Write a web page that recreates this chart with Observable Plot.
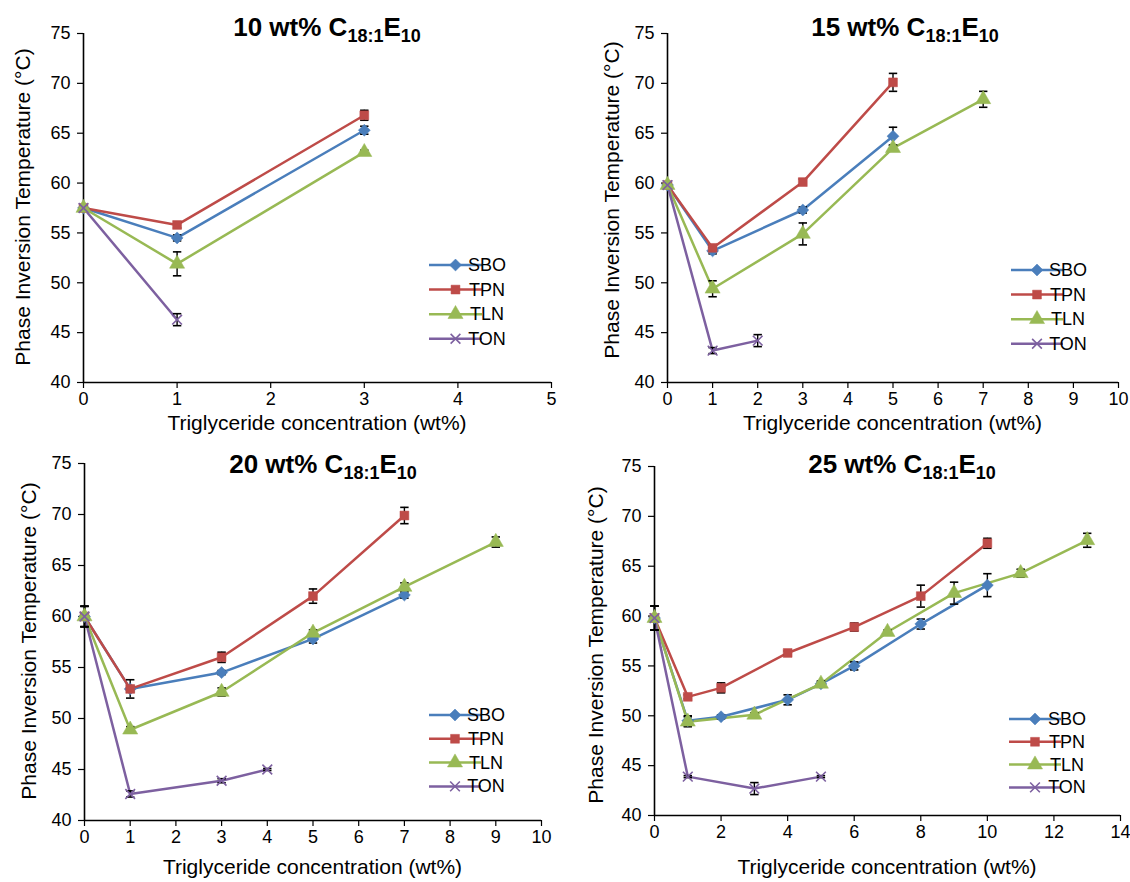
<!DOCTYPE html>
<html><head><meta charset="utf-8">
<script src="https://cdn.jsdelivr.net/npm/d3@7"></script>
<script src="https://cdn.jsdelivr.net/npm/@observablehq/plot@0.6"></script>
<style>
body{margin:0;background:#fff;}
#chart{position:relative;width:1130px;height:882px;background:#fff;font-family:Arial,"Liberation Sans",sans-serif;}
#chart svg{position:absolute;}
</style></head><body><div id="chart"></div>
<script>
// ---------- data ----------
const seriesNames = ["SBO", "TPN", "TLN", "TON"];
const surfactantLevels = ["10", "15", "20", "25"];
const xLabel = "Triglyceride concentration (wt%)";
const yLabel = "Phase Inversion Temperature (°C)";
const xMaxes = [5, 10, 10, 14];
const xTickSteps = [1, 1, 1, 2];
const yTicks = [40, 45, 50, 55, 60, 65, 70, 75];

// 10 wt% C18:1E10
const c10_SBO_x = [0, 1, 3];          const c10_SBO_y = [57.5, 54.5, 65.3];   const c10_SBO_e = [0.3, 0.3, 0.4];
const c10_TPN_x = [0, 1, 3];          const c10_TPN_y = [57.5, 55.8, 66.8];   const c10_TPN_e = [0.3, 0.3, 0.5];
const c10_TLN_x = [0, 1, 3];          const c10_TLN_y = [57.5, 51.9, 63.1];   const c10_TLN_e = [0.3, 1.2, 0.2];
const c10_TON_x = [0, 1];             const c10_TON_y = [57.5, 46.3];         const c10_TON_e = [0.3, 0.6];

// 15 wt% C18:1E10
const c15_SBO_x = [0, 1, 3, 5];       const c15_SBO_y = [59.8, 53.2, 57.3, 64.7];       const c15_SBO_e = [0.3, 0.3, 0.3, 0.9];
const c15_TPN_x = [0, 1, 3, 5];       const c15_TPN_y = [59.8, 53.5, 60.1, 70.1];       const c15_TPN_e = [0.3, 0.3, 0.3, 0.9];
const c15_TLN_x = [0, 1, 3, 5, 7];    const c15_TLN_y = [59.8, 49.4, 54.9, 63.5, 68.4]; const c15_TLN_e = [0.3, 0.8, 1.1, 0.3, 0.8];
const c15_TON_x = [0, 1, 2];          const c15_TON_y = [59.8, 43.2, 44.2];             const c15_TON_e = [0.3, 0.3, 0.6];

// 20 wt% C18:1E10
const c20_SBO_x = [0, 1, 3, 5, 7];    const c20_SBO_y = [60.0, 52.9, 54.5, 57.8, 62.1];       const c20_SBO_e = [1.0, 0.3, 0.2, 0.4, 0.3];
const c20_TPN_x = [0, 1, 3, 5, 7];    const c20_TPN_y = [60.0, 52.9, 56.0, 62.0, 69.9];       const c20_TPN_e = [1.0, 0.9, 0.5, 0.7, 0.8];
const c20_TLN_x = [0, 1, 3, 5, 7, 9]; const c20_TLN_y = [60.0, 48.9, 52.6, 58.4, 62.9, 67.3]; const c20_TLN_e = [1.0, 0.3, 0.4, 0.3, 0.4, 0.5];
const c20_TON_x = [0, 1, 3, 4];       const c20_TON_y = [60.0, 42.6, 43.9, 45.0];             const c20_TON_e = [1.0, 0.3, 0.2, 0.1];

// 25 wt% C18:1E10
const c25_SBO_x = [0, 1, 2, 4, 5, 6, 8, 10];   const c25_SBO_y = [59.8, 49.5, 49.9, 51.6, 53.2, 55.0, 59.2, 63.1];  const c25_SBO_e = [1.2, 0.5, 0.2, 0.5, 0.3, 0.4, 0.5, 1.15];
const c25_TPN_x = [0, 1, 2, 4, 6, 8, 10];      const c25_TPN_y = [59.8, 51.9, 52.8, 56.3, 58.9, 62.0, 67.3];        const c25_TPN_e = [1.2, 0.2, 0.5, 0.2, 0.4, 1.1, 0.5];
const c25_TLN_x = [0, 1, 3, 5, 7, 9, 11, 13];  const c25_TLN_y = [59.8, 49.4, 50.1, 53.2, 58.4, 62.3, 64.3, 67.6];  const c25_TLN_e = [1.2, 0.5, 0.2, 0.2, 0.2, 1.1, 0.4, 0.7];
const c25_TON_x = [0, 1, 3, 5];                const c25_TON_y = [59.8, 43.9, 42.7, 43.9];                          const c25_TON_e = [1.2, 0.1, 0.6, 0.1];

const panelSeries = [
  [[c10_SBO_x, c10_SBO_y, c10_SBO_e], [c10_TPN_x, c10_TPN_y, c10_TPN_e], [c10_TLN_x, c10_TLN_y, c10_TLN_e], [c10_TON_x, c10_TON_y, c10_TON_e]],
  [[c15_SBO_x, c15_SBO_y, c15_SBO_e], [c15_TPN_x, c15_TPN_y, c15_TPN_e], [c15_TLN_x, c15_TLN_y, c15_TLN_e], [c15_TON_x, c15_TON_y, c15_TON_e]],
  [[c20_SBO_x, c20_SBO_y, c20_SBO_e], [c20_TPN_x, c20_TPN_y, c20_TPN_e], [c20_TLN_x, c20_TLN_y, c20_TLN_e], [c20_TON_x, c20_TON_y, c20_TON_e]],
  [[c25_SBO_x, c25_SBO_y, c25_SBO_e], [c25_TPN_x, c25_TPN_y, c25_TPN_e], [c25_TLN_x, c25_TLN_y, c25_TLN_e], [c25_TON_x, c25_TON_y, c25_TON_e]]
];

// ---------- styles & layout ----------
const seriesColors = ["#4A7EBB", "#BE4B48", "#98B954", "#7D60A0"];
const seriesSymbols = ["diamond2", "square", "triangle", "times"];
const seriesD3Symbols = [d3.symbolDiamond2, d3.symbolSquare, d3.symbolTriangle, d3.symbolTimes];
const seriesR = [5.4, 5, 5.6, 4.5];
const FONT = "Arial, 'Liberation Sans', sans-serif";
const TICK_FS = 18, AXIS_FS = 21, LEG_FS = 18, TITLE_FS = 26, SUB_FS = 18;

const layouts = [
  {left: 0,   top: 0,   mL: 83,  mR: 14, mT: 33, mB: 59, yLab: [22, 207], title: [327, 36], xLab: 430, leg: {x1: 429, x2: 482, tx: 487, y0: 265, dy: 24.6}},
  {left: 565, top: 0,   mL: 102, mR: 12, mT: 33, mB: 59, yLab: [46, 200], title: [340, 36], xLab: 430, leg: {x1: 446, x2: 498, tx: 503, y0: 270, dy: 24.6}},
  {left: 0,   top: 441, mL: 84,  mR: 24, mT: 22, mB: 62, yLab: [28, 200], title: [323, 32], xLab: 433, leg: {x1: 429, x2: 481, tx: 486, y0: 274, dy: 23.8}},
  {left: 565, top: 441, mL: 89,  mR: 10, mT: 25, mB: 67, yLab: [30, 204], title: [337, 32], xLab: 433, leg: {x1: 444, x2: 496, tx: 502, y0: 278, dy: 22.8}}
];

const capSymbol = {
  draw(context, size) {
    const r = Math.sqrt(size / Math.PI);
    context.moveTo(-r, 0);
    context.lineTo(r, 0);
  }
};

const chart = document.getElementById("chart");

surfactantLevels.forEach((lvl, p) => {
  const L = layouts[p];
  const W = 565, H = 441;
  const xTicks = d3.range(0, xMaxes[p] + 1e-9, xTickSteps[p]);
  const marks = [
    Plot.axisX({ticks: xTicks, tickFormat: d3.format("d"), tickSize: 6, tickPadding: 4, fontSize: TICK_FS, label: null, stroke: "black", strokeWidth: 1.2}),
    Plot.axisY({ticks: yTicks, tickFormat: d3.format("d"), tickSize: 6, tickPadding: 7, fontSize: TICK_FS, label: null, stroke: "black", strokeWidth: 1.2}),
    Plot.ruleX([0], {stroke: "black", strokeWidth: 1.6}),
    Plot.ruleY([40], {stroke: "black", strokeWidth: 1.6})
  ];
  const all = [];
  panelSeries[p].forEach(([xs, ys, es], s) => {
    const rows = xs.map((x, i) => ({x, y: ys[i], e: es[i], s}));
    all.push(rows);
    marks.push(Plot.line(rows, {x: "x", y: "y", stroke: seriesColors[s], strokeWidth: 2.5}));
  });
  all.forEach((rows) => {
    marks.push(Plot.ruleX(rows, {x: "x", y1: d => d.y - d.e, y2: d => d.y + d.e, stroke: "black", strokeWidth: 1.4}));
    marks.push(Plot.dot(rows, {x: "x", y: d => d.y + d.e, symbol: capSymbol, r: 4.2, fill: "none", stroke: "black", strokeWidth: 1.6}));
    marks.push(Plot.dot(rows, {x: "x", y: d => d.y - d.e, symbol: capSymbol, r: 4.2, fill: "none", stroke: "black", strokeWidth: 1.6}));
  });
  all.forEach((rows, s) => {
    const isStroke = seriesSymbols[s] === "times";
    marks.push(Plot.dot(rows, {x: "x", y: "y", symbol: seriesSymbols[s], r: seriesR[s],
      fill: isStroke ? "none" : seriesColors[s], stroke: seriesColors[s], strokeWidth: isStroke ? 1.6 : 0.5}));
  });

  const svg = Plot.plot({
    width: W, height: H,
    marginLeft: L.mL, marginRight: L.mR, marginTop: L.mT, marginBottom: L.mB,
    style: {fontFamily: FONT, fontSize: TICK_FS + "px", color: "black", background: "transparent", overflow: "visible"},
    x: {domain: [0, xMaxes[p]]},
    y: {domain: [40, 75]},
    marks
  });
  svg.style.left = L.left + "px";
  svg.style.top = L.top + "px";
  svg.style.maxWidth = "none";

  const g = d3.select(svg).append("g").attr("font-family", FONT).attr("fill", "black");
  // title
  const t = g.append("text").attr("x", L.title[0]).attr("y", L.title[1]).attr("text-anchor", "middle")
    .attr("font-weight", "bold").attr("font-size", TITLE_FS);
  t.append("tspan").text(lvl + " wt% C");
  t.append("tspan").attr("font-size", SUB_FS).attr("dy", 6).text("18:1");
  t.append("tspan").attr("dy", -6).text("E");
  t.append("tspan").attr("font-size", SUB_FS).attr("dy", 6).text("10");
  // axis titles
  g.append("text").attr("x", (L.mL + W - L.mR) / 2).attr("y", L.xLab).attr("text-anchor", "middle")
    .attr("font-size", AXIS_FS).text(xLabel);
  g.append("text").attr("transform", `translate(${L.yLab[0]},${L.yLab[1]}) rotate(-90)`)
    .attr("text-anchor", "middle").attr("dominant-baseline", "central").attr("font-size", AXIS_FS).text(yLabel);
  // legend
  seriesNames.forEach((name, s) => {
    const y = L.leg.y0 + s * L.leg.dy;
    g.append("line").attr("x1", L.leg.x1).attr("x2", L.leg.x2).attr("y1", y).attr("y2", y)
      .attr("stroke", seriesColors[s]).attr("stroke-width", 2.5);
    const isStroke = seriesSymbols[s] === "times";
    g.append("path").attr("d", d3.symbol(seriesD3Symbols[s], Math.PI * seriesR[s] * seriesR[s])())
      .attr("transform", `translate(${(L.leg.x1 + L.leg.x2) / 2},${y})`)
      .attr("fill", isStroke ? "none" : seriesColors[s]).attr("stroke", seriesColors[s])
      .attr("stroke-width", isStroke ? 1.6 : 0.5);
    g.append("text").attr("x", L.leg.tx).attr("y", y).attr("dominant-baseline", "central")
      .attr("font-size", LEG_FS).text(name);
  });
  chart.appendChild(svg);
});
</script></body></html>
